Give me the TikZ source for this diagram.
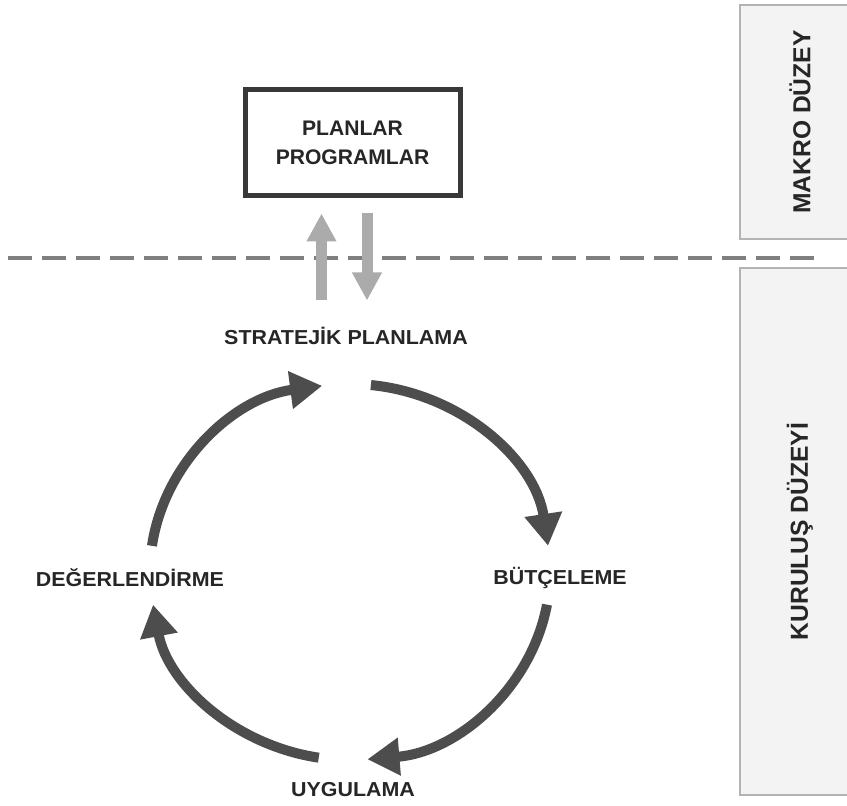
\documentclass[tikz,border=0pt]{standalone}
\usepackage{fontspec}
\setmainfont{Liberation Sans}
\newfontfamily\widesans[FakeStretch=1.06]{Liberation Sans}
\usetikzlibrary{arrows.meta,calc}
\definecolor{boxline}{HTML}{383838}
\definecolor{cycgray}{HTML}{4D4D4D}
\definecolor{linkgray}{HTML}{ABABAB}
\definecolor{dashgray}{HTML}{7F7F7F}
\definecolor{sidefill}{HTML}{F3F3F3}
\definecolor{sideline}{HTML}{B3B3B3}
\definecolor{txt}{HTML}{262626}
\begin{document}
\begin{tikzpicture}[x=0.2mm,y=0.2mm,
    lbl/.style={font=\widesans\bfseries\fontsize{11.5}{13}\selectfont, text=txt},
    cyc/.style={line width=2mm, draw=cycgray, -{Triangle[length=6.4mm,width=7.2mm]}},
    link/.style={line width=2.2mm, draw=linkgray, -{Triangle[length=5.6mm,width=5.6mm]}},
    sidebox/.style={draw=sideline, fill=sidefill, line width=0.4mm, rotate=90,
        minimum height=24mm, font=\bfseries\fontsize{14}{16}\selectfont, text=txt}]
        \useasboundingbox (0,0) rectangle (847,805);
        \fill[white] (0,0) rectangle (847,805);
        % macro level
        \node[draw=boxline, line width=1mm, minimum width=43mm, minimum height=21.2mm,
            align=center, text=txt, font=\bfseries\fontsize{12}{16.5}\selectfont]
            (plan) at (352.5,662) {PLANLAR\\PROGRAMLAR};
        \node[sidebox, minimum width=46.8mm] (makro) at (800,683) {MAKRO DÜZEY};
        \node[sidebox, minimum width=105.4mm] (kurulus) at (800,273.5) {KURULUŞ DÜZEYİ};
        \draw[dashgray, line width=0.8mm, dash pattern=on 4.8mm off 2mm] (8,547) -- (818,547);
        % cycle
        \node[lbl] (strat) at (346,469) {STRATEJİK PLANLAMA};
        \node[lbl] (butce) at (560,227) {BÜTÇELEME};
        \node[lbl] (uyg) at (353,15) {UYGULAMA};
        \node[lbl] (deger) at (130,227) {DEĞERLENDİRME};
        \draw[link] ($(plan.south)+(-31,-102)$) -- ($(plan.south)+(-31,-15)$);
        \draw[link] ($(plan.south)+(14.5,-15)$) -- ($(plan.south)+(14.5,-102)$);
        \coordinate (ctr) at (350,233);
        \draw[cyc] (ctr) ++(84:200 and 188) arc[start angle=84, end angle=8, x radius=200, y radius=188];
        \draw[cyc] (ctr) ++(-10:200 and 188) arc[start angle=-10, end angle=-85, x radius=200, y radius=188];
        \draw[cyc] (ctr) ++(-99:200 and 188) arc[start angle=-99, end angle=-170, x radius=200, y radius=188];
        \draw[cyc] (ctr) ++(172:200 and 188) arc[start angle=172, end angle=98, x radius=200, y radius=188];
    \end{tikzpicture}
\end{document}
